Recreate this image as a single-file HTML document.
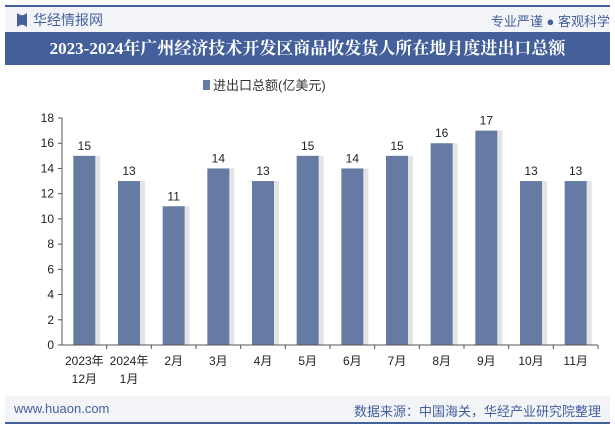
<!DOCTYPE html>
<html><head><meta charset="utf-8"><style>
body{margin:0;width:615px;height:427px;background:#fff;font-family:"Liberation Sans","Noto Sans CJK SC",sans-serif;overflow:hidden;position:relative}
.abs{position:absolute}
</style></head><body>
<div class="abs" style="left:5px;top:5px;width:605px;height:2px;background:#44609a"></div>
<div class="abs" style="left:5px;top:7px;width:605px;height:25px;background:#f3f4f8"></div>
<div class="abs" style="left:17px;top:13px;width:10px;height:14px;background:#44609a;clip-path:polygon(0 0,35% 15%,65% 15%,100% 0,100% 100%,65% 85%,35% 85%,0 100%)"></div>
<div class="abs" style="left:33px;top:10px;font-size:14px;color:#44609a">华经情报网</div>
<div class="abs" style="right:5px;top:11px;font-size:13px;color:#44609a">专业严谨 ● 客观科学</div>
<div class="abs" style="left:5px;top:32px;width:605px;height:33px;background:#44609a;color:#fff;font-weight:bold;font-size:17px;text-align:center;line-height:33px;font-family:'Liberation Serif','Noto Serif CJK SC',serif">2023-2024年广州经济技术开发区商品收发货人所在地月度进出口总额</div>
<div class="abs" style="left:203px;top:75px;font-size:13px;color:#333"><span style="display:inline-block;width:7px;height:10px;background:#667ba3;margin-right:3px"></span>进出口总额(亿美元)</div>
<svg class="abs" style="left:0;top:0" width="615" height="427" id="chart"></svg>
<div class="abs" style="left:5px;top:396px;width:605px;height:26px;background:#f3f4f8"></div>
<div class="abs" style="left:14px;top:401px;font-size:13px;color:#44609a">www.huaon.com</div>
<div class="abs" style="right:14px;top:401px;font-size:13px;color:#44609a">数据来源：中国海关，华经产业研究院整理</div>
<div class="abs" style="left:5px;top:422px;width:605px;height:2px;background:#44609a"></div>
<script>
const categories=["2023年|12月","2024年|1月","2月","3月","4月","5月","6月","7月","8月","9月","10月","11月"];
const values=[15,13,11,14,13,15,14,15,16,17,13,13];
const yTicks=[0,2,4,6,8,10,12,14,16,18];
const svg=document.getElementById('chart');const NS='http://www.w3.org/2000/svg';
const x0=62,x1=598,y0=345,y1=118,yMax=18;
const bw=(x1-x0)/categories.length;
const Y=v=>y0-(y0-y1)*v/yMax;
const X=i=>x0+bw*(i+0.5);
function mk(t,a){const e=document.createElementNS(NS,t);for(const k in a)e.setAttribute(k,a[k]);svg.appendChild(e);return e;}
yTicks.forEach(t=>{
 const l=mk('line',{x1:x0-4,x2:x0,y1:Y(t),y2:Y(t),stroke:'#555'});
 
 
 const tx=mk('text',{x:x0-8,y:Y(t)+4,'text-anchor':'end','font-size':12,fill:'#222'});tx.textContent=t;
 
 
});
const ya=mk('line',{x1:x0,x2:x0,y1:y1,y2:y0,stroke:'#555'});


categories.forEach((c,i)=>{
 const sh=mk('rect',{x:X(i)-11+22,y:Y(values[i]),width:5,height:y0-Y(values[i]),fill:'#e4e4e4'});
 
 
 const r=mk('rect',{x:X(i)-11,y:Y(values[i]),width:22,height:y0-Y(values[i]),fill:'#667ba3'});
 
 
 const v=mk('text',{x:X(i),y:Y(values[i])-6,'text-anchor':'middle','font-size':12,fill:'#222'});v.textContent=values[i];
 
 
 const tk=mk('line',{x1:x0+bw*(i+1),x2:x0+bw*(i+1),y1:y0,y2:y0+4,stroke:'#555'});
 
 
 c.split('|').forEach((p,j)=>{const t=mk('text',{x:X(i),y:y0+20+j*18,'text-anchor':'middle','font-size':12,fill:'#222'});t.textContent=p;
 
 });
});
const xa=mk('line',{x1:x0,x2:x1,y1:y0,y2:y0,stroke:'#555'});


</script>
</body></html>
